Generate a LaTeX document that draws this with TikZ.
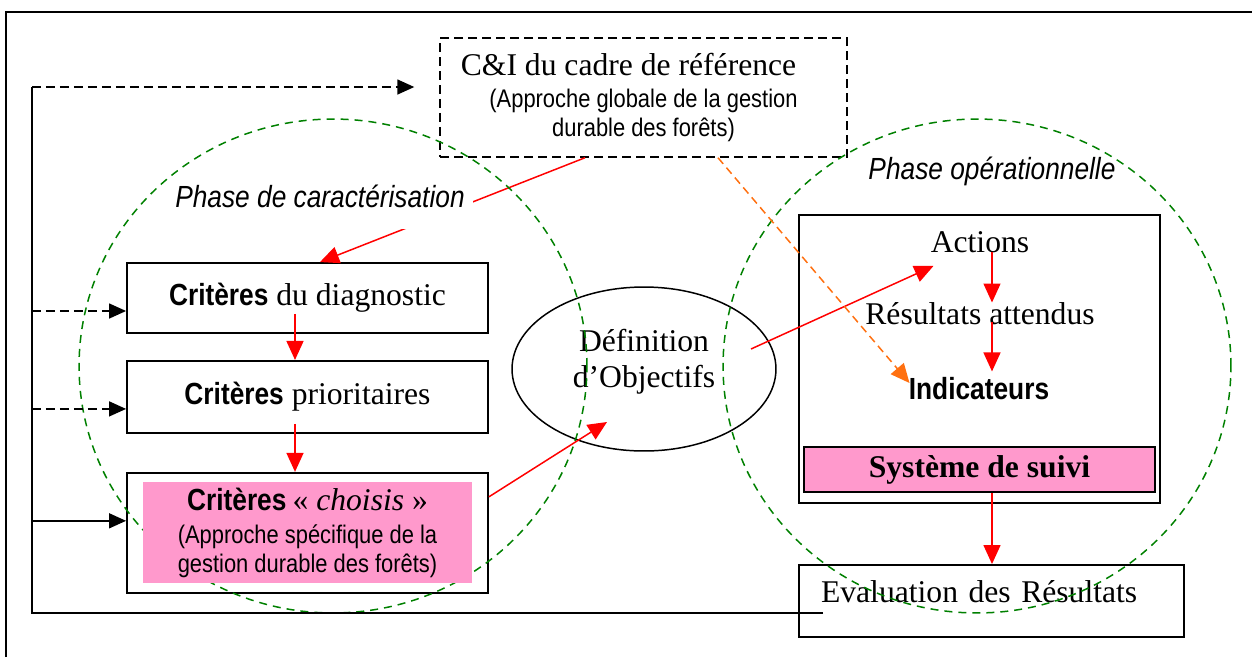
\documentclass[tikz,border=0pt]{standalone}
\usepackage{fontspec}
\setmainfont{Liberation Serif}
\newfontfamily\narrowsf[FakeStretch=0.86]{Liberation Sans}
\usepackage{xcolor}
\usepackage{tikz}
\usetikzlibrary{shapes.geometric,arrows.meta,positioning,calc}
\definecolor{boxpink}{RGB}{255,153,204}
\definecolor{phasegreen}{RGB}{0,128,0}
\definecolor{linkorange}{RGB}{255,112,16}
\newcommand{\serifbig}{\rmfamily\fontsize{18}{21}\selectfont}
\newcommand{\sansbig}{\narrowsf\fontsize{17.4}{20}\selectfont}
\newcommand{\sanssmall}{\narrowsf\fontsize{14.5}{16.5}\selectfont}

\begin{document}
\begin{tikzpicture}[
    x=0.02cm, y=-0.02cm,
    critbox/.style={rectangle, draw=black, line width=1.1pt, minimum width=7.22cm, font=\serifbig},
    phase/.style={ellipse, draw=phasegreen, line width=0.85pt, dash pattern=on 0.16cm off 0.12cm,
                  minimum width=10.16cm, minimum height=9.88cm, inner sep=0pt},
    phaselabel/.style={font=\sansbig\itshape},
    plaintext/.style={font=\serifbig, inner sep=0pt},
    redarrow/.style={-{Triangle[length=0.38cm,width=0.34cm]}, red, line width=0.85pt},
    dasharrow/.style={-{Triangle[length=0.34cm,width=0.3cm]}, line width=0.85pt, dash pattern=on 0.18cm off 0.1cm},
    looparrow/.style={-{Triangle[length=0.34cm,width=0.3cm]}, line width=0.85pt},
    node distance=0.52cm
]
\useasboundingbox (0,0) rectangle (1252,657);
\draw[line width=1.1pt] (6,657) -- (6,12) -- (1252,12);

% reference frame
\node[critbox, dash pattern=on 0.18cm off 0.1cm, line width=0.85pt, minimum width=8.14cm, minimum height=2.38cm,
      align=center, font=\sanssmall] (cibox) at (643.5,97.5)
      {{\serifbig C\&I du cadre de référence}\hspace*{0.6cm}\\[2pt](Approche globale de la gestion\\durable des forêts)};

% characterisation phase
\node[critbox, minimum height=1.4cm] (diag) at (307.5,298) {{\sansbig\bfseries Critères} du diagnostic};
\node[critbox, minimum height=1.44cm, below=0.52cm of diag] (prio) {{\sansbig\bfseries Critères} prioritaires};
\node[critbox, minimum height=2.4cm, below=0.76cm of prio] (choisis) {};
\node[ellipse, draw, line width=0.85pt, minimum width=5.28cm, minimum height=3.28cm, inner sep=0pt,
      align=center, font=\rmfamily\fontsize{18}{20.5}\selectfont] (defobj) at (644,369)
      {Définition\\d’Objectifs\\[-8pt]\mbox{}};

% operational phase
\node[critbox, minimum height=5.76cm] (opsbox) at (979.5,359) {};
\node[plaintext] (actions) at (980,242) {Actions};
\node[plaintext] (resultats) at (980,314) {Résultats attendus};
\node[plaintext, font=\sansbig\bfseries] (indic) at (979,389) {Indicateurs};
\node[critbox, fill=boxpink, line width=1.4pt, minimum width=7.02cm, minimum height=0.9cm,
      font=\serifbig\bfseries] (suivi) at (979.5,469.5) {Système de suivi};
\node[critbox, minimum width=7.7cm, minimum height=1.44cm, text width=6.82cm, align=left,
      inner xsep=0.44cm, text depth=0.4cm] (evalres) at (991.5,601) {Evaluation des Résultats};
\node[phaselabel] (opslabel) at (992,171) {Phase opérationnelle};

\draw[redarrow] ($(cibox.south)+(-58.5,0)$) -- ($(diag.north)+(12.5,0)$);
\node[phaselabel, fill=white, inner xsep=0.16cm, inner ysep=0.1cm, text depth=0.34cm, anchor=base]
      (carlabel) at (320,207) {Phase de caractérisation};

\node[phase] (carphase) at (333,366) {};
\node[phase] (opsphase) at (977,366) {};

\node[fill=boxpink, minimum width=6.58cm, minimum height=1.96cm, align=center, font=\sanssmall]
      (choisisfill) at (choisis.center)
      {{\sansbig\bfseries Critères} {\serifbig «~\textit{choisis}~»}\\[2pt](Approche spécifique de la\\gestion durable des forêts)};

\draw[redarrow] ($(diag.south)+(-12.5,-20)$) -- ($(prio.north)+(-12.5,0)$);
\draw[redarrow] ($(prio.south)+(-12.5,-10)$) -- ($(choisis.north)+(-12.5,0)$);
\draw[redarrow] ($(choisis.east)+(0,-36)$) -- ($(defobj.center)+(-37,53)$);
\draw[redarrow] ($(defobj.center)+(107,-20)$) -- ($(actions.south west)+(3,13)$);
\draw[redarrow] ($(actions.base)+(12,0)$) -- ($(resultats.north)+(12,0)$);
\draw[redarrow] ($(resultats.base)+(12,-3)$) -- ($(indic.north)+(13,-6)$);
\draw[redarrow] ($(suivi.south)+(12.5,0)$) -- ($(evalres.north)+(0.5,0)$);
\draw[redarrow, linkorange, dash pattern=on 0.16cm off 0.1cm] ($(cibox.south)+(74.5,0)$) -- ($(indic.west)+(1,-6)$);

% feedback loop
\coordinate (loopstart) at ($(evalres.west)+(25,12)$);
\coordinate (loopbl) at (32,613);
\coordinate (looptl) at (32,87);
\draw[line width=0.85pt] (loopstart) -- (loopbl) -- (looptl);
\draw[dasharrow, shorten >=0.5cm] (looptl) -- (looptl -| cibox.west);
\draw[dasharrow] ($(looptl |- diag.west)+(0,13)$) -- ($(diag.west)+(0,13)$);
\draw[dasharrow] ($(looptl |- prio.west)+(0,12)$) -- ($(prio.west)+(0,12)$);
\draw[looparrow] ($(looptl |- choisis.west)+(0,-12)$) -- ($(choisis.west)+(0,-12)$);
\end{tikzpicture}
\end{document}
